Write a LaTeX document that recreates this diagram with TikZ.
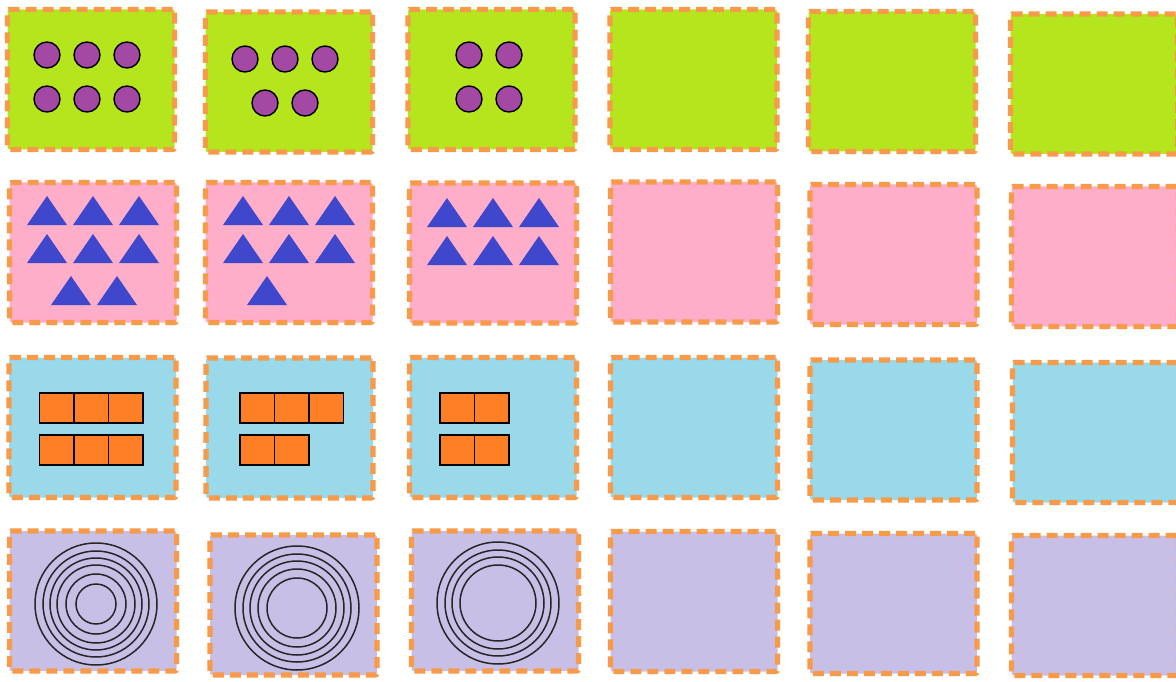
\documentclass[tikz,border=0pt]{standalone}
\usetikzlibrary{calc}
\definecolor{cgreen}{HTML}{B5E61D}
\definecolor{cpink}{HTML}{FFAEC9}
\definecolor{cblue}{HTML}{99D9EA}
\definecolor{clav}{HTML}{C8BFE7}
\definecolor{cborder}{HTML}{F79A4A}
\definecolor{corange}{HTML}{FF7F27}
\definecolor{cindigo}{HTML}{3F48CC}
\definecolor{cpurple}{HTML}{A349A4}
\tikzset{
  card/.style={rectangle, draw=cborder, line width=5.4pt, dash pattern=on 11pt off 6pt,
    rounded corners=2pt, inner sep=0pt, outer sep=0pt,
    minimum width=167pt, minimum height=140pt},
  gcard/.style={card, fill=cgreen},
  pcard/.style={card, fill=cpink},
  bcard/.style={card, fill=cblue},
  lcard/.style={card, fill=clav},
  dot/.style={draw=black, line width=1.4pt, fill=cpurple},
  tri/.style={fill=cindigo},
  sq/.style={draw=black, line width=1.5pt, fill=corange},
  ring/.style={draw=black!85, line width=1.5pt},
}
\newcommand\mydot[2]{\draw[dot] (#1,#2) circle[radius=13pt];}
\newcommand\mytri[2]{\fill[tri] (#1-20,#2) -- (#1+20,#2) -- (#1,#2-29) -- cycle;}
\newcommand\mysq[2]{\draw[sq] (#1,#2) rectangle +(34.5,30);}
\begin{document}
\begin{tikzpicture}[x=1pt,y=-1pt]
\useasboundingbox (0,0) rectangle (1176,682);
% row 1
\node[gcard] (g1) at (91,79.5) {};
\node[gcard] (g2) at (289,82) {};
\node[gcard] (g3) at (491.5,79.5) {};
\node[gcard] (g4) at (693.5,79.5) {};
\node[gcard] (g5) at (892,81.5) {};
\node[gcard] (g6) at (1094,84) {};
% row 2
\node[pcard] (p1) at (93,252.5) {};
\node[pcard] (p2) at (289,252.5) {};
\node[pcard] (p3) at (493,253) {};
\node[pcard] (p4) at (694,252) {};
\node[pcard] (p5) at (893.5,254.5) {};
\node[pcard] (p6) at (1095,256.5) {};
% row 3
\node[bcard] (b1) at (92.5,427.5) {};
\node[bcard] (b2) at (289.5,428) {};
\node[bcard] (b3) at (493,427.5) {};
\node[bcard] (b4) at (694,427.5) {};
\node[bcard] (b5) at (893.5,430) {};
\node[bcard] (b6) at (1096,432.5) {};
% row 4
\node[lcard] (l1) at (93,601) {};
\node[lcard] (l2) at (293.5,605) {};
\node[lcard] (l3) at (495,601) {};
\node[lcard] (l4) at (694,601.5) {};
\node[lcard] (l5) at (893.5,603.5) {};
\node[lcard] (l6) at (1095,605.5) {};
% dots
\mydot{47}{55}\mydot{87}{55}\mydot{127}{55}
\mydot{47}{99}\mydot{87}{99}\mydot{127}{99}
\mydot{245}{59}\mydot{285}{59}\mydot{325}{59}
\mydot{265}{103}\mydot{305}{103}
\mydot{469}{55}\mydot{509}{55}
\mydot{469}{99}\mydot{509}{99}
% triangles
\mytri{47}{225}\mytri{93}{225}\mytri{139}{225}
\mytri{47}{263}\mytri{93}{263}\mytri{139}{263}
\mytri{71}{305}\mytri{117}{305}
\mytri{243}{225}\mytri{289}{225}\mytri{335}{225}
\mytri{243}{263}\mytri{289}{263}\mytri{335}{263}
\mytri{267}{305}
\mytri{447}{227}\mytri{493}{227}\mytri{539}{227}
\mytri{447}{265}\mytri{493}{265}\mytri{539}{265}
% squares
\mysq{39.5}{393}\mysq{74}{393}\mysq{108.5}{393}
\mysq{39.5}{435}\mysq{74}{435}\mysq{108.5}{435}
\mysq{240}{393}\mysq{274.5}{393}\mysq{309}{393}
\mysq{240}{435}\mysq{274.5}{435}
\mysq{440}{393}\mysq{474.5}{393}
\mysq{440}{435}\mysq{474.5}{435}
% rings
\foreach \r in {61,53,46,39,30,20} \draw[ring] (96,604) circle[radius=\r pt];
\foreach \r in {62,54,47,39,30} \draw[ring] (297,608) circle[radius=\r pt];
\foreach \r in {61,53,46,38} \draw[ring] (498,603) circle[radius=\r pt];
\end{tikzpicture}
\end{document}
